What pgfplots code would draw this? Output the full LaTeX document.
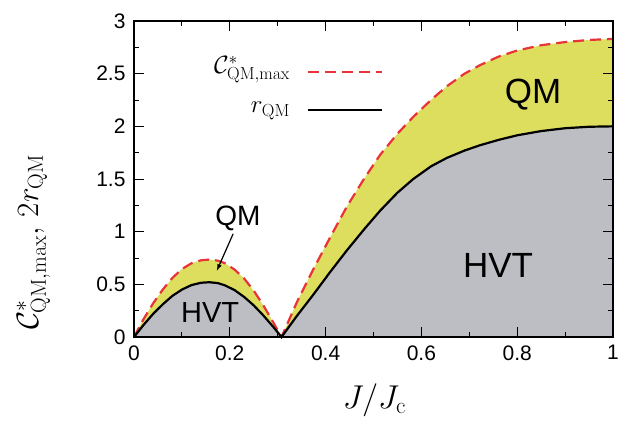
\RequirePackage{fix-cm}
\documentclass[border=0pt]{standalone}
\usepackage[no-math]{fontspec}
\setmainfont{Liberation Sans}
\usepackage{pgfplots}
\pgfplotsset{compat=1.18}

\definecolor{qmyellow}{RGB}{221,221,94}
\definecolor{hvtgray}{RGB}{188,190,195}
\definecolor{cred}{RGB}{232,52,56}

\newcommand{\legfont}{\fontsize{25}{30}\selectfont}

\begin{document}
\begin{tikzpicture}
\begin{axis}[
    scale only axis,
    width=479pt, height=316pt,
    xmin=0, xmax=1, ymin=0, ymax=3,
    xtick={0,0.2,0.4,0.6,0.8,1},
    ytick={0,0.5,1,1.5,2,2.5,3},
    minor x tick num=1, minor y tick num=1,
    tick align=inside,
    major tick length=10pt, minor tick length=5pt,
    tick style={black, line width=0.9pt},
    axis line style={line width=1.3pt},
    axis on top,
    clip=false,
    /pgf/number format/assume math mode=true,
    ticklabel style={font=\fontsize{21}{24}\selectfont},
    xticklabel style={yshift=-5pt},
    yticklabel style={xshift=-5pt},
    xlabel={$J/J_{\mathrm{c}}$},
    xlabel style={font=\fontsize{33}{39}\selectfont, at={(axis description cs:0.502,-0.2)}, anchor=center},
]
% fills
\addplot[draw=none, fill=qmyellow, forget plot] coordinates {
(0,0)(0.02,0.17)(0.04,0.32)(0.06,0.45)(0.08,0.56)(0.10,0.645)(0.12,0.70)(0.14,0.728)(0.157,0.735)
(0.175,0.725)(0.19,0.70)(0.21,0.64)(0.23,0.555)(0.25,0.44)(0.27,0.30)(0.29,0.145)(0.308,0)
(0.34,0.33)(0.374,0.64)(0.41,0.95)(0.444,1.235)(0.48,1.50)(0.514,1.73)(0.55,1.93)(0.583,2.09)
(0.62,2.25)(0.653,2.38)(0.69,2.50)(0.722,2.58)(0.76,2.66)(0.8,2.72)(0.85,2.77)(0.9,2.80)(0.95,2.82)(1.0,2.83)
} \closedcycle;
\addplot[draw=none, fill=hvtgray, forget plot] coordinates {
(0,0)(0.02,0.115)(0.04,0.22)(0.06,0.31)(0.08,0.39)(0.10,0.45)(0.12,0.493)(0.14,0.515)(0.157,0.52)
(0.175,0.512)(0.19,0.49)(0.21,0.445)(0.23,0.38)(0.25,0.30)(0.27,0.205)(0.29,0.10)(0.308,0)
(0.34,0.20)(0.374,0.40)(0.41,0.62)(0.444,0.82)(0.48,1.02)(0.514,1.20)(0.55,1.37)(0.583,1.50)
(0.62,1.62)(0.653,1.70)(0.69,1.77)(0.722,1.82)(0.76,1.87)(0.8,1.915)(0.85,1.955)(0.9,1.982)(0.95,1.996)(1.0,2.0)
} \closedcycle;
% curves
\addplot[cred, line width=2.2pt, dash pattern=on 11pt off 6pt] coordinates {
(0,0)(0.02,0.17)(0.04,0.32)(0.06,0.45)(0.08,0.56)(0.10,0.645)(0.12,0.70)(0.14,0.728)(0.157,0.735)
(0.175,0.725)(0.19,0.70)(0.21,0.64)(0.23,0.555)(0.25,0.44)(0.27,0.30)(0.29,0.145)(0.308,0)
(0.34,0.33)(0.374,0.64)(0.41,0.95)(0.444,1.235)(0.48,1.50)(0.514,1.73)(0.55,1.93)(0.583,2.09)
(0.62,2.25)(0.653,2.38)(0.69,2.50)(0.722,2.58)(0.76,2.66)(0.8,2.72)(0.85,2.77)(0.9,2.80)(0.95,2.82)(1.0,2.83)
};
\addplot[black, line width=2.2pt] coordinates {
(0,0)(0.02,0.115)(0.04,0.22)(0.06,0.31)(0.08,0.39)(0.10,0.45)(0.12,0.493)(0.14,0.515)(0.157,0.52)
(0.175,0.512)(0.19,0.49)(0.21,0.445)(0.23,0.38)(0.25,0.30)(0.27,0.205)(0.29,0.10)(0.308,0)
(0.34,0.20)(0.374,0.40)(0.41,0.62)(0.444,0.82)(0.48,1.02)(0.514,1.20)(0.55,1.37)(0.583,1.50)
(0.62,1.62)(0.653,1.70)(0.69,1.77)(0.722,1.82)(0.76,1.87)(0.8,1.915)(0.85,1.955)(0.9,1.982)(0.95,1.996)(1.0,2.0)
};
% legend (key lines and entries)
\draw[cred, line width=2.2pt, dash pattern=on 11pt off 6pt] (axis cs:0.363,2.517) -- (axis cs:0.518,2.517);
\draw[black, line width=2.2pt] (axis cs:0.363,2.156) -- (axis cs:0.518,2.156);
\node[anchor=base east, inner sep=0pt, font=\legfont] at (axis cs:0.326,2.50) {$\mathcal{C}^{*}_{\mathrm{QM,max}}$};
\node[anchor=base east, inner sep=0pt, font=\legfont] at (axis cs:0.326,2.127) {$r_{\mathrm{QM}}$};
% y label
\node[rotate=90, anchor=west, inner sep=0pt, font=\fontsize{31}{37}\selectfont]
    at (axis description cs:-0.21,0.022) {$\mathcal{C}^{*}_{\mathrm{QM,max}},\, 2r_{\mathrm{QM}}$};
% region labels
\node[font=\fontsize{35}{40}\selectfont] at (axis cs:0.833,2.30) {QM};
\node[font=\fontsize{35}{40}\selectfont] at (axis cs:0.76,0.68) {HVT};
\node[font=\fontsize{29}{34}\selectfont] at (axis cs:0.159,0.23) {HVT};
\node[font=\fontsize{28}{32}\selectfont] at (axis cs:0.217,1.13) {QM};
\draw[-latex, line width=1.2pt] (axis cs:0.207,0.98) -- (axis cs:0.173,0.63);
\end{axis}
\pgfresetboundingbox
\path (-134pt,-86pt) rectangle (495pt,337pt);
\end{tikzpicture}
\end{document}
